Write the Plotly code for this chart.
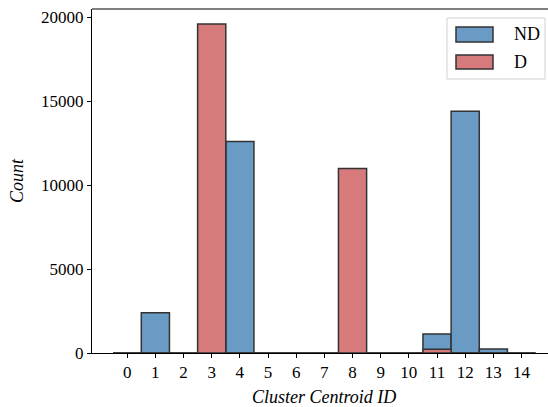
import plotly.graph_objects as go

categories = list(range(15))
nd_counts = [0, 2400, 0, 0, 12600, 0, 0, 0, 0, 0, 0, 1130, 14400, 240, 0]
d_counts = [0, 0, 0, 19600, 0, 0, 0, 0, 11000, 0, 0, 230, 0, 0, 0]
y_ticks = [0, 5000, 10000, 15000, 20000]

BLUE = "#6A9BC4"
RED = "#D77A7B"
EDGE = "#333333"
FONT = "Liberation Serif, Times New Roman, serif"

fig = go.Figure()
fig.add_trace(go.Bar(x=categories, y=nd_counts, width=1, name="ND",
                     marker=dict(color=BLUE, line=dict(color=EDGE, width=1.5)),
                     showlegend=False))
fig.add_trace(go.Bar(x=categories, y=d_counts, width=1, name="D",
                     marker=dict(color=RED, line=dict(color=EDGE, width=1.5)),
                     showlegend=False))

L, T, B, W, H = 92, 9, 54, 548, 407
pw, ph = W - L, H - T - B

def px(x):
    return (x - L) / pw

def py(y):
    return (H - B - y) / ph

shapes = [
    dict(type="line", xref="paper", yref="paper", x0=0, x1=1, y0=1, y1=1,
         line=dict(color="black", width=1)),
    dict(type="rect", xref="paper", yref="paper", x0=px(447), x1=px(545), y0=py(79), y1=py(18),
         line=dict(color="#d0d0d0", width=1), fillcolor="rgba(255,255,255,0.85)"),
    dict(type="rect", xref="paper", yref="paper", x0=px(456), x1=px(493), y0=py(42), y1=py(27),
         line=dict(color=EDGE, width=1.5), fillcolor=BLUE),
    dict(type="rect", xref="paper", yref="paper", x0=px(456), x1=px(493), y0=py(69), y1=py(55),
         line=dict(color=EDGE, width=1.5), fillcolor=RED),
]

annotations = [
    dict(text="ND", xref="paper", yref="paper", x=px(512), y=py(34), xanchor="left", yanchor="middle",
         showarrow=False, font=dict(family=FONT, size=18, color="black")),
    dict(text="D", xref="paper", yref="paper", x=px(512), y=py(62), xanchor="left", yanchor="middle",
         showarrow=False, font=dict(family=FONT, size=18, color="black")),
    dict(text="<i>Cluster Centroid ID</i>", xref="paper", yref="paper", x=px(323.5), y=py(397),
         xanchor="center", yanchor="middle", showarrow=False,
         font=dict(family=FONT, size=18, color="black")),
]

fig.update_layout(
    width=W, height=H,
    margin=dict(l=L, r=0, t=T, b=B, pad=0),
    barmode="overlay",
    plot_bgcolor="white", paper_bgcolor="white",
    font=dict(family=FONT, size=17, color="black"),
    shapes=shapes,
    annotations=annotations,
    xaxis=dict(range=[-1.25, 14.94], tickmode="array", tickvals=categories,
               ticktext=[str(c) for c in categories],
               showline=True, linecolor="black", linewidth=1,
               ticks="outside", ticklen=4, tickcolor="black", tickwidth=1,
               showgrid=False, zeroline=False, tickfont=dict(size=17)),
    yaxis=dict(range=[0, 20500], tickmode="array", tickvals=y_ticks,
               ticktext=[str(v) for v in y_ticks],
               showline=True, linecolor="black", linewidth=1,
               ticks="outside", ticklen=4, tickcolor="black", tickwidth=1,
               showgrid=False, zeroline=False, tickfont=dict(size=17),
               title=dict(text="<i>Count</i>", font=dict(size=18), standoff=12)),
)

fig.write_html("out.html")
